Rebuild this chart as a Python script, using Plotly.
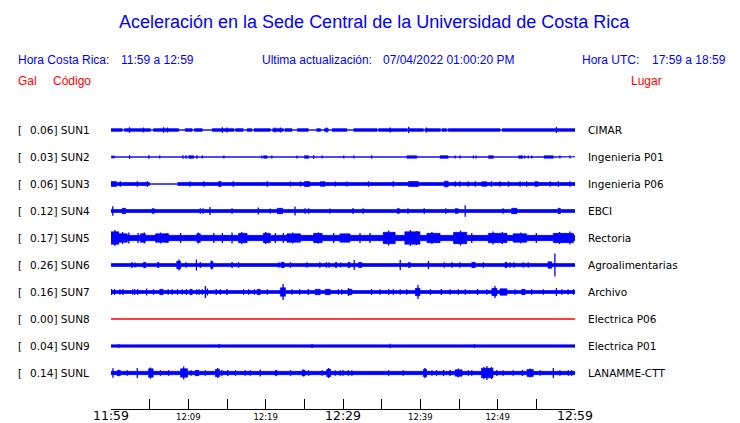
import plotly.graph_objects as go

# ---------------- data ----------------
CODES = ["SUN1", "SUN2", "SUN3", "SUN4", "SUN5", "SUN6", "SUN7", "SUN8", "SUN9", "SUNL"]
GAL = ["0.06", "0.03", "0.06", "0.12", "0.17", "0.26", "0.16", "0.00", "0.04", "0.14"]
PLACES = ["CIMAR", "Ingenieria P01", "Ingenieria P06", "EBCI", "Rectoria", "Agroalimentarias",
          "Archivo", "Electrica P06", "Electrica P01", "LANAMME-CTT"]
TICK_MIN = [0, 5, 10, 15, 20, 25, 30, 35, 40, 45, 50, 55, 60]
TICK_TEXT = ["11:59", "", "12:09", "", "12:19", "", "12:29", "", "12:39", "", "12:49", "", "12:59"]
BIG_TICKS = ["11:59", "12:29", "12:59"]

# trace envelopes: base half-amplitude, (start min, end min, half-amplitude) segments,
# and (minute, half-amplitude) peaks  -- relative display amplitude units
SUN1_BASE = 0.5
SUN1_SEGS = [(0, 1.45, 1.7), (1.75, 5.1, 1.7), (5.5, 8.75, 1.7), (9.6, 10.5, 1.7), (10.8, 11.8, 1.7),
             (13.1, 15.9, 1.7), (16.1, 17.1, 1.7), (17.6, 18.2, 1.7), (18.5, 20.6, 1.7), (20.9, 22.3, 1.7),
             (22.5, 23.4, 1.7), (24.1, 25.5, 1.7), (26.6, 27.1, 1.7), (27.6, 28.1, 1.7), (28.6, 30.5, 1.7),
             (31.4, 34.4, 1.7), (34.6, 38.3, 1.7), (38.4, 40.4, 1.7), (40.6, 42.6, 1.7), (42.8, 43.4, 1.7),
             (43.6, 50.3, 1.7), (50.6, 60, 1.7)]
SUN1_PEAKS = [(2.4, 2.8), (4.2, 2.5), (6.8, 2.8), (7.3, 2.5), (14.4, 2.8), (15.0, 2.5), (21.2, 2.5),
              (21.9, 2.5), (27.9, 2.5), (36.1, 2.5), (38.5, 3.3), (40.8, 2.5), (57.6, 3.0)]

SUN2_BASE = 0.6
SUN2_SEGS = [(10.05, 10.7, 1.6), (19.7, 20.2, 1.5), (25.0, 25.55, 1.6), (38.25, 39.55, 1.5),
             (42.55, 43.6, 1.6), (48.8, 49.45, 1.6), (52.7, 53.25, 1.5), (56.0, 57.2, 1.5)]
SUN2_PEAKS = [(0.15, 1.6), (0.4, 1.6), (2.4, 1.8), (4.9, 1.8), (6.3, 1.6), (9.3, 1.8), (9.7, 1.8),
              (11.1, 1.8), (11.8, 1.6), (14.6, 1.6), (19.5, 1.6), (20.8, 1.6), (24.05, 1.6), (26.2, 1.8),
              (27.3, 1.6), (30.1, 1.6), (31.4, 1.6), (33.7, 1.6), (44.5, 1.6), (45.15, 1.6), (46.85, 1.6),
              (47.2, 1.6), (53.5, 1.6), (53.95, 1.6), (54.4, 1.6), (58.05, 1.6), (59.35, 1.6)]

SUN3_BASE = 1.8
SUN3_SEGS = [(0, 0.7, 2.8), (1.0, 1.45, 2.5), (2.1, 2.75, 2.3), (4.97, 8.63, 0.6), (13.9, 14.25, 2.8),
             (25.0, 25.7, 2.8), (27.05, 27.7, 2.6), (38.45, 39.75, 2.8), (43.1, 43.6, 3.2),
             (47.95, 48.6, 2.6), (54.8, 55.25, 2.6)]
SUN3_PEAKS = [(1.2, 2.8), (3.4, 2.8), (4.7, 2.8), (10.2, 2.8), (12.0, 2.8), (15.8, 2.8), (20.2, 2.8),
              (23.2, 2.6), (24.5, 2.6), (29.0, 2.6), (30.5, 2.6), (33.3, 2.8), (36.5, 2.8), (44.5, 2.8),
              (45.1, 2.8), (46.2, 2.8), (47.1, 2.8), (49.2, 2.8), (50.3, 2.8), (51.4, 2.8), (52.9, 2.8),
              (53.75, 2.8), (56.8, 2.8), (57.85, 2.8), (59.35, 2.8)]

SUN4_BASE = 1.8
SUN4_SEGS = [(1.45, 1.9, 3.0), (5.3, 5.6, 2.7), (8.6, 8.8, 2.5), (9.5, 9.7, 2.5), (13.7, 13.9, 2.5),
             (14.4, 14.6, 2.5), (21.5, 22.2, 3.0), (37.0, 37.3, 2.7), (44.5, 44.9, 2.7), (51.8, 52.5, 3.0),
             (57.8, 58.1, 3.0)]
SUN4_PEAKS = [(0.23, 4.7), (11.55, 2.8), (11.9, 2.8), (12.8, 4.0), (15.65, 2.8), (19.05, 3.5), (20.6, 2.6),
              (23.8, 4.5), (25.1, 2.7), (25.55, 2.7), (28.3, 2.6), (31.3, 3.0), (32.6, 2.8), (38.4, 2.8),
              (40.5, 2.8), (43.3, 2.8), (45.8, 5.8), (50.7, 2.8)]

SUN5_BASE = 3.0
SUN5_SEGS = [(0, 1.0, 6.5), (1.0, 2.1, 4.5), (3.8, 4.45, 4.5), (5.75, 7.45, 4.5), (11.1, 11.55, 4.5),
             (16.5, 17.6, 5.0), (19.7, 20.6, 5.0), (22.75, 24.5, 4.5), (26.2, 27.3, 5.0), (29.6, 30.9, 4.5),
             (35.2, 36.75, 6.0), (38.0, 39.95, 6.5), (40.85, 42.55, 5.0), (44.3, 46.0, 6.0),
             (48.8, 51.2, 5.0), (52.0, 53.75, 4.5), (57.2, 59.8, 5.0)]
SUN5_PEAKS = [(0.5, 8.0), (1.5, 6.0), (2.3, 5.5), (3.5, 5.0), (4.3, 5.5), (6.4, 5.5), (7.2, 5.0),
              (9.0, 5.0), (11.3, 5.5), (13.3, 5.0), (14.4, 5.0), (15.65, 5.5), (16.9, 6.0), (20.0, 6.0),
              (21.25, 5.0), (22.3, 5.0), (23.5, 5.5), (26.8, 5.5), (28.8, 5.0), (32.2, 5.0), (33.5, 5.0),
              (35.9, 7.5), (38.7, 8.0), (39.5, 7.0), (41.5, 6.0), (45.2, 7.5), (46.65, 5.0), (49.4, 6.5),
              (50.6, 6.0), (53.0, 5.5), (55.0, 5.0), (58.0, 6.0), (59.35, 6.5)]

SUN6_BASE = 1.8
SUN6_SEGS = [(4.2, 4.5, 3.0), (6.0, 6.2, 3.0), (8.5, 9.0, 4.0), (12.9, 13.2, 3.5), (22.0, 22.4, 3.0),
             (29.0, 29.2, 3.0), (30.7, 30.9, 3.0), (32.0, 32.45, 2.8), (38.45, 38.7, 2.8),
             (46.65, 47.1, 3.0), (50.95, 51.2, 3.0), (56.5, 57.0, 3.5)]
SUN6_PEAKS = [(2.7, 3.0), (3.1, 2.6), (8.8, 5.5), (9.7, 2.8), (11.05, 5.5), (11.55, 3.0), (13.0, 4.5),
              (15.65, 3.0), (16.5, 2.8), (21.7, 2.8), (23.2, 2.8), (25.35, 2.8), (27.0, 2.8), (27.85, 2.8),
              (28.2, 2.8), (29.7, 2.6), (30.7, 2.6), (31.45, 5.0), (37.4, 5.0), (41.05, 4.0), (43.1, 2.8),
              (44.1, 2.8), (45.1, 2.8), (48.15, 2.8), (51.6, 2.8), (52.1, 2.8), (53.3, 2.8), (53.95, 2.8),
              (57.4, 11.5)]

SUN7_BASE = 1.8
SUN7_SEGS = [(6.3, 6.75, 3.0), (10.2, 10.5, 3.0), (18.9, 19.3, 3.0), (21.9, 22.55, 4.5), (26.4, 27.05, 3.0),
             (27.7, 28.35, 3.0), (30.7, 31.15, 3.0), (39.35, 39.95, 4.0), (49.25, 49.9, 4.0),
             (50.3, 51.2, 3.5), (53.1, 53.55, 3.0)]
SUN7_PEAKS = [(0.07, 3.0), (0.45, 3.0), (1.15, 2.8), (1.55, 3.0), (2.8, 2.8), (3.05, 2.8), (3.45, 2.8),
              (4.6, 3.5), (5.5, 2.8), (7.4, 2.8), (7.9, 2.8), (8.6, 2.8), (9.2, 2.8), (9.75, 2.8),
              (11.1, 2.8), (11.4, 2.8), (11.8, 2.8), (12.2, 6.0), (12.45, 3.5), (13.6, 3.0), (14.15, 2.8),
              (15.0, 3.0), (17.15, 2.8), (17.8, 2.8), (18.55, 2.8), (20.2, 2.8), (22.25, 8.0), (23.4, 2.8),
              (24.4, 2.8), (25.5, 3.0), (29.4, 2.8), (29.85, 2.8), (30.7, 4.0), (33.7, 3.0), (34.8, 2.8),
              (35.9, 2.8), (36.5, 2.8), (37.4, 2.8), (38.25, 2.8), (39.7, 7.0), (41.3, 2.8), (42.7, 3.0),
              (43.85, 2.8), (44.9, 2.8), (45.8, 2.8), (47.4, 3.0), (48.6, 2.8), (49.65, 6.0), (52.25, 2.8),
              (54.4, 2.8), (55.9, 2.8), (57.6, 4.0), (58.3, 2.8), (59.1, 2.8), (59.8, 2.8)]

SUN8_BASE = 0.0
SUN8_SEGS = []
SUN8_PEAKS = []

SUN9_BASE = 1.5
SUN9_SEGS = [(t, t + 0.15, 0.8) for t in
             [3.15, 4.9, 7.25, 8.55, 10.7, 12.4, 13.05, 15.0, 17.15, 18.9, 21.9, 23.2, 25.35, 27.05,
              29.65, 30.5, 32.2, 34.4, 36.95, 39.1, 41.7, 43.85, 45.55, 48.15, 50.3, 52.9, 55.05, 57.2,
              59.35]]
SUN9_PEAKS = [(36.1, 2.2), (1.0, 2.0), (14.0, 1.9), (26.0, 1.9), (47.0, 1.9)]

SUNL_BASE = 2.0
SUNL_SEGS = [(0.8, 1.2, 3.0), (4.85, 5.45, 4.5), (9.0, 9.9, 4.5), (10.9, 11.35, 3.0), (13.5, 14.05, 4.0),
             (21.25, 21.45, 3.0), (24.7, 25.1, 3.0), (27.9, 28.4, 4.0), (40.4, 40.8, 4.0),
             (44.5, 45.4, 3.5), (47.9, 49.4, 5.0), (53.8, 54.6, 3.8)]
SUNL_PEAKS = [(0.25, 4.8), (2.1, 2.8), (3.4, 5.0), (5.1, 5.5), (6.4, 2.8), (7.45, 2.8), (9.4, 6.5),
              (10.35, 2.8), (11.15, 3.0), (12.2, 2.8), (13.8, 5.0), (14.35, 3.0), (15.1, 3.0), (16.1, 2.8),
              (17.35, 2.8), (18.0, 2.8), (19.3, 3.5), (23.2, 2.8), (24.9, 3.5), (25.55, 2.8), (27.3, 2.8),
              (28.15, 5.0), (29.0, 2.8), (29.65, 2.8), (30.0, 2.8), (30.7, 2.8), (31.15, 2.8), (35.9, 2.8),
              (37.8, 2.8), (40.6, 5.0), (41.5, 2.8), (42.1, 2.8), (43.0, 3.0), (43.85, 3.0), (44.9, 4.5),
              (46.2, 2.8), (46.65, 2.8), (48.2, 6.0), (48.6, 7.0), (49.2, 6.0), (49.9, 3.0), (50.7, 2.8),
              (52.0, 2.8), (53.2, 3.0), (54.2, 4.5), (55.5, 2.8), (57.2, 5.0), (58.05, 2.8), (59.15, 2.8),
              (59.55, 2.8)]

BASES = [SUN1_BASE, SUN2_BASE, SUN3_BASE, SUN4_BASE, SUN5_BASE, SUN6_BASE, SUN7_BASE, SUN8_BASE, SUN9_BASE, SUNL_BASE]
SEGS = [SUN1_SEGS, SUN2_SEGS, SUN3_SEGS, SUN4_SEGS, SUN5_SEGS, SUN6_SEGS, SUN7_SEGS, SUN8_SEGS, SUN9_SEGS, SUNL_SEGS]
PEAKS = [SUN1_PEAKS, SUN2_PEAKS, SUN3_PEAKS, SUN4_PEAKS, SUN5_PEAKS, SUN6_PEAKS, SUN7_PEAKS, SUN8_PEAKS, SUN9_PEAKS, SUNL_PEAKS]
DURATION = 60

# ---------------- styling / geometry ----------------
BLUE = "#0000FF"
RED = "#FF0000"
PAGE_OFF = 8                      # default page body margin of the browser
W, H = 740 - PAGE_OFF, 423 - PAGE_OFF
PLOT_X0, PLOT_X1, PLOT_Y0, PLOT_Y1 = 110.5, 575, 100, 409   # screen px of plot area
L = PLOT_X0 - PAGE_OFF
T = PLOT_Y0 - PAGE_OFF
R = W - (PLOT_X1 - PAGE_OFF)
B = H - (PLOT_Y1 - PAGE_OFF)
ROW_PX = 27.0
AMP_SCALE = 1.0 / ROW_PX          # amplitude unit -> row units
OUTLINE = 0.7
N = len(CODES)
Y_BOTTOM = -(PLOT_Y1 - 373) / ROW_PX
Y_TOP = (N - 1) + (130 - PLOT_Y0) / ROW_PX


def px_x(x):
    return (x - PLOT_X0) / (PLOT_X1 - PLOT_X0)


def px_y(y):
    return (PLOT_Y1 - y) / (PLOT_Y1 - PLOT_Y0)


def envelope(base, segs):
    pts = sorted(set([0, DURATION] + [s[0] for s in segs] + [s[1] for s in segs]))
    xs, ys = [], []
    for a, b in zip(pts[:-1], pts[1:]):
        mid = (a + b) / 2
        amp = base
        for s0, s1, sa in segs:
            if s0 <= mid <= s1:
                amp = sa
        xs += [a, b]
        ys += [amp, amp]
    return xs, ys


fig = go.Figure()
for i, code in enumerate(CODES):
    c = (N - 1) - i
    if BASES[i] == 0 and not SEGS[i]:
        fig.add_trace(go.Scatter(x=[0, DURATION], y=[c, c], mode="lines",
                                 line=dict(color=RED, width=1.4), hoverinfo="skip", showlegend=False))
        continue
    xs, ys = envelope(BASES[i], SEGS[i])
    up = [c + max(a - OUTLINE / 2, 0.1) * AMP_SCALE for a in ys]
    dn = [c - max(a - OUTLINE / 2, 0.1) * AMP_SCALE for a in ys]
    fig.add_trace(go.Scatter(x=xs + xs[::-1], y=up + dn[::-1], mode="lines", fill="toself",
                             fillcolor=BLUE, line=dict(color=BLUE, width=OUTLINE),
                             hoverinfo="skip", showlegend=False))
    px, py = [], []
    for t, a in PEAKS[i]:
        px += [t, t, None]
        py += [c + a * AMP_SCALE, c - a * AMP_SCALE, None]
    if px:
        fig.add_trace(go.Scatter(x=px, y=py, mode="lines", line=dict(color=BLUE, width=1.3),
                                 hoverinfo="skip", showlegend=False))

ann = []
LBL_FONT = dict(family="DejaVu Sans", size=10.5, color="black")
for i, code in enumerate(CODES):
    c = (N - 1) - i
    ann.append(dict(x=px_x(15), y=c, xref="paper", yref="y", text="[", showarrow=False,
                    xanchor="left", yanchor="middle", font=LBL_FONT))
    ann.append(dict(x=px_x(27), y=c, xref="paper", yref="y", text=f"{GAL[i]}] {code}", showarrow=False,
                    xanchor="left", yanchor="middle", font=LBL_FONT))
    ann.append(dict(x=px_x(586), y=c, xref="paper", yref="y", text=PLACES[i], showarrow=False,
                    xanchor="left", yanchor="middle", font=LBL_FONT))

TOP_FONT = dict(family="Liberation Sans", size=12, color=BLUE)
RED_FONT = dict(family="Liberation Sans", size=12, color=RED)
header = [
    (374, 22, "Aceleración en la Sede Central de la Universidad de Costa Rica", "center",
     dict(family="Liberation Sans", size=18, color=BLUE)),
    (15, 60, "Hora Costa Rica:", "left", TOP_FONT),
    (119, 60, "11:59 a 12:59", "left", TOP_FONT),
    (260, 60, "Ultima actualización:", "left", TOP_FONT),
    (381, 60, "07/04/2022 01:00:20 PM", "left", TOP_FONT),
    (580, 60, "Hora UTC:", "left", TOP_FONT),
    (650, 60, "17:59 a 18:59", "left", TOP_FONT),
    (15, 81, "Gal", "left", RED_FONT),
    (50, 81, "Código", "left", RED_FONT),
    (629, 81, "Lugar", "left", RED_FONT),
]
for x, y, txt, anchor, fnt in header:
    ann.append(dict(x=px_x(x), y=px_y(y), xref="paper", yref="paper", text=txt, showarrow=False,
                    xanchor=anchor, yanchor="middle", font=fnt))

ticktext = [f'<span style="font-size:12.5px">{t}</span>' if t in BIG_TICKS else t for t in TICK_TEXT]

fig.update_layout(
    width=W, height=H, margin=dict(l=L, r=R, t=T, b=B, autoexpand=False),
    paper_bgcolor="white", plot_bgcolor="white",
    annotations=ann,
    xaxis=dict(range=[0, DURATION], showgrid=False, zeroline=False, showline=True, linecolor="black",
               linewidth=1, ticks="inside", ticklen=10, tickwidth=1, tickcolor="black",
               tickvals=TICK_MIN, ticktext=ticktext, tickangle=0,
               tickfont=dict(family="DejaVu Sans", size=8.5, color="black"), fixedrange=True),
    yaxis=dict(range=[Y_BOTTOM, Y_TOP], visible=False, fixedrange=True),
)
fig.write_html("out.html")
